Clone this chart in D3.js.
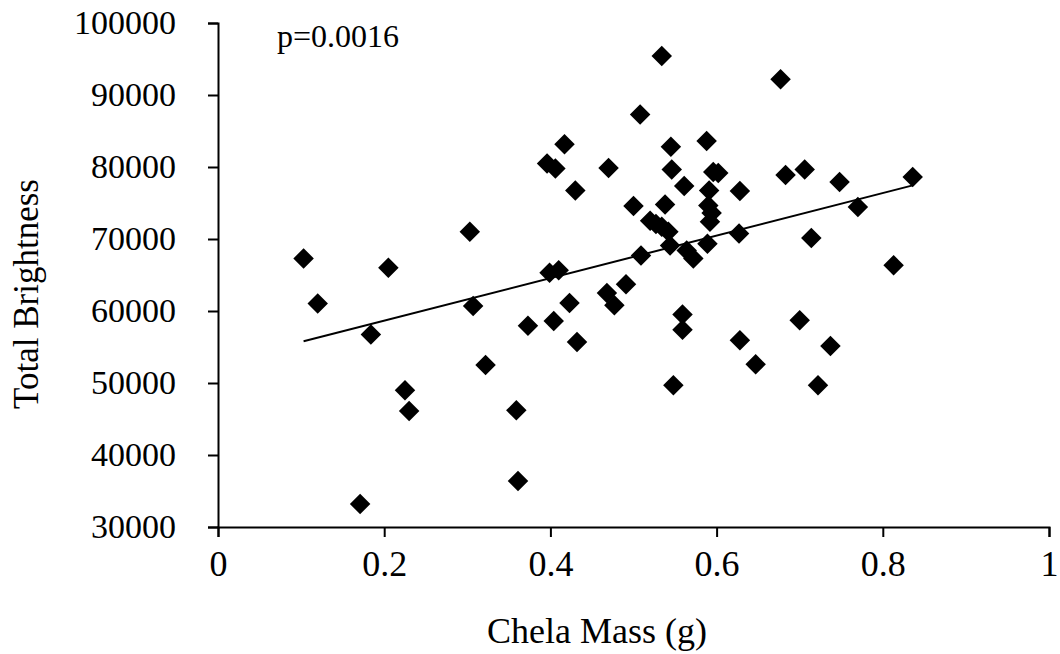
<!DOCTYPE html>
<html>
<head>
<meta charset="utf-8">
<script src="https://cdn.jsdelivr.net/npm/d3@7"></script>
<style>
  body { margin: 0; background: #fff; }
  text { font-family: "Liberation Serif", "Times New Roman", serif; fill: #000; }
</style>
</head>
<body>
<svg width="1060" height="654"></svg>
<script>
// chela mass (g) and total brightness
const chelaMass = [0.103, 0.120, 0.184, 0.171, 0.205, 0.225, 0.230, 0.303, 0.307, 0.322,
  0.359, 0.361, 0.373, 0.396, 0.406, 0.417, 0.430, 0.399, 0.410, 0.404,
  0.423, 0.432, 0.470, 0.468, 0.477, 0.491, 0.500, 0.508, 0.509, 0.520,
  0.527, 0.534, 0.534, 0.538, 0.542, 0.545, 0.546, 0.544, 0.561, 0.564,
  0.572, 0.559, 0.559, 0.548, 0.588, 0.596, 0.602, 0.591, 0.590, 0.594,
  0.592, 0.589, 0.628, 0.627, 0.628, 0.647, 0.677, 0.683, 0.700, 0.706,
  0.714, 0.722, 0.737, 0.748, 0.770, 0.813, 0.836];
const brightness = [67300, 61050, 56750, 33200, 66000, 49000, 46100, 71000, 60700, 52500,
  46200, 36400, 57950, 80500, 79800, 83150, 76750, 65300, 65650, 58600,
  61100, 55700, 79850, 62500, 60800, 63700, 74600, 87300, 67700, 72550,
  72100, 95400, 71700, 74800, 71000, 82800, 79650, 69100, 77350, 68400,
  67300, 59500, 57400, 49700, 83600, 79300, 79150, 76750, 74650, 73600,
  72400, 69350, 76650, 70750, 55950, 52600, 92200, 78900, 58700, 79650,
  70150, 49700, 55150, 77900, 74450, 66350, 78600];

// trend line end points
const trendX = [0.103, 0.836];
const trendY = [55800, 77450];

const xTicks = [0, 0.2, 0.4, 0.6, 0.8, 1];
const yTicks = [30000, 40000, 50000, 60000, 70000, 80000, 90000, 100000];
const pLabel = "p=0.0016";

let svg = d3.select("svg");
let mLeft = 218, mRight = 1049, mTop = 23, mBottom = 527;

let x = d3.scaleLinear().domain([0, 1]).range([mLeft, mRight]);
let y = d3.scaleLinear().domain([30000, 100000]).range([mBottom, mTop]);

let xAxis = svg.append("g")
  .attr("transform", "translate(0," + mBottom + ")")
  .call(d3.axisBottom(x).tickValues(xTicks).tickSize(10).tickPadding(13)
    .tickFormat(function(d) { return d; }));
let yAxis = svg.append("g")
  .attr("transform", "translate(" + mLeft + ",0)")
  .call(d3.axisLeft(y).tickValues(yTicks).tickSize(10).tickPadding(32)
    .tickFormat(function(d) { return d; }));

[xAxis, yAxis].forEach(function(a) {
  a.select(".domain").attr("stroke", "#000").attr("stroke-width", 2);
  a.selectAll(".tick line").attr("stroke", "#000").attr("stroke-width", 2);
  a.selectAll(".tick text")
    .attr("font-family", "Liberation Serif")
    .attr("fill", "#000");
});
xAxis.selectAll(".tick text").attr("font-size", 36);
yAxis.selectAll(".tick text").attr("font-size", 34);

// trend line
svg.append("line")
  .attr("x1", x(trendX[0])).attr("y1", y(trendY[0]))
  .attr("x2", x(trendX[1])).attr("y2", y(trendY[1]))
  .attr("stroke", "#000").attr("stroke-width", 2);

// diamonds
let pts = chelaMass.map(function(m, i) { return { m: m, b: brightness[i] }; });
let diamond = d3.symbol().type(d3.symbolSquare).size(210);
svg.selectAll(".pt")
  .data(pts)
  .enter()
  .append("path")
  .attr("class", "pt")
  .attr("d", diamond)
  .attr("transform", function(d) {
    return "translate(" + x(d.m) + "," + y(d.b) + ") rotate(45)";
  })
  .attr("fill", "#000");

svg.append("text")
  .attr("x", 277).attr("y", 47)
  .attr("font-size", 32)
  .text(pLabel);

svg.append("text")
  .attr("x", 597).attr("y", 643)
  .attr("text-anchor", "middle")
  .attr("font-size", 36)
  .text("Chela Mass (g)");

svg.append("text")
  .attr("transform", "translate(38,294) rotate(-90)")
  .attr("text-anchor", "middle")
  .attr("font-size", 35)
  .text("Total Brightness");
</script>
</body>
</html>
